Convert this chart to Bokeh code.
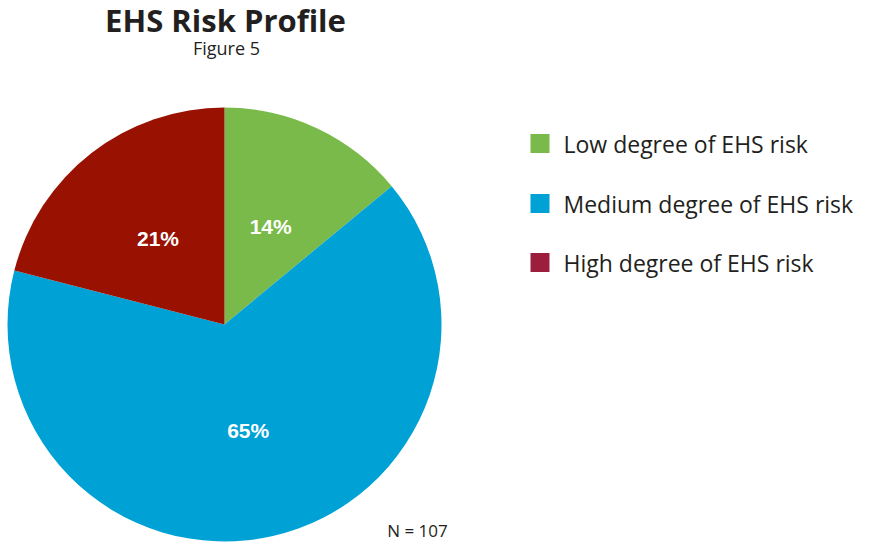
import math
from bokeh.plotting import figure
from bokeh.models import Range1d, ColumnDataSource
from bokeh.core.properties import value
from bokeh.embed import file_html
from bokeh.resources import INLINE

categories = ["Low degree of EHS risk", "Medium degree of EHS risk", "High degree of EHS risk"]
percents = [14, 65, 21]
slice_colors = ["#7aba4a", "#00a1d5", "#991100"]
legend_colors = ["#7aba4a", "#00a1d5", "#9c1e3d"]
title_text = "EHS Risk Profile"
subtitle_text = "Figure 5"
note_text = "N = 107"

W, H = 855, 544
p = figure(width=W, height=H, output_backend="svg", toolbar_location=None,
           x_range=Range1d(0, W), y_range=Range1d(0, H), min_border=0,
           outline_line_color=None)
p.axis.visible = False
p.grid.visible = False
p.background_fill_color = "white"

cx, cy, R = 224, 220, 217
total = sum(percents)
starts, ends, lx, ly, labels = [], [], [], [], []
cum = 0
for v in percents:
    a0 = math.pi / 2 - 2 * math.pi * cum / total
    cum += v
    a1 = math.pi / 2 - 2 * math.pi * cum / total
    starts.append(a1)
    ends.append(a0)
    mid = (a0 + a1) / 2
    lx.append(cx + 0.5 * R * math.cos(mid))
    ly.append(cy + 0.5 * R * math.sin(mid))
    labels.append(f"{v}%")

src = ColumnDataSource(dict(start=starts, end=ends, color=slice_colors, lx=lx, ly=ly, label=labels))
p.wedge(x=cx, y=cy, radius=R, start_angle="start", end_angle="end", fill_color="color",
        line_color=None, source=src)
p.text(x="lx", y="ly", text="label", source=src, text_color="white",
       text_font=value("Liberation Sans"), text_font_style="bold", text_font_size="21px",
       text_align="center", text_baseline="middle")

# title
p.text(x=[225], y=[525], text=[title_text], text_font=value("Open Sans"), text_font_style="bold",
       text_font_size="31px", text_color="#231f20", text_align="center", text_baseline="middle")
p.text(x=[226], y=[497], text=[subtitle_text], text_font=value("Open Sans"),
       text_font_size="18px", text_color="#231f20", text_align="center", text_baseline="middle")

# legend
ly_leg = [401, 341, 282]
p.rect(x=[539.5] * 3, y=ly_leg, width=19, height=19, fill_color=legend_colors, line_color=None)
p.text(x=[563] * 3, y=ly_leg, text=categories, text_font=value("Open Sans"),
       text_font_size="23px", text_color="#231f20", text_align="left", text_baseline="middle")

p.text(x=[417], y=[14], text=[note_text], text_font=value("Open Sans"),
       text_font_size="17px", text_color="#231f20", text_align="center", text_baseline="middle")

open("out.html", "w").write(file_html(p, INLINE))
